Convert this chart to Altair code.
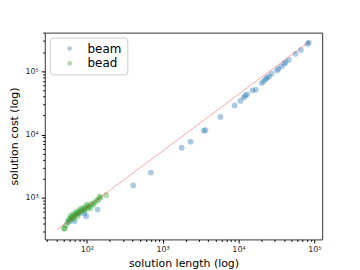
import altair as alt
import pandas as pd

# beam (blue) points
beam_len = [84700, 81300, 66500, 56500, 46300, 41800, 40200, 37000, 33600, 32200,
            27400, 25300, 23800, 22900, 21500, 20300, 16900, 15300, 13000, 12300,
            11700, 10600, 8900, 5770, 3670, 3490, 2335, 1780, 698, 409,
            139, 98, 93, 69, 59, 80]
beam_cost = [282000, 269000, 216000, 187500, 151000, 138400, 130600, 118500, 109000, 102600,
             91000, 82600, 78800, 75000, 69700, 64800, 51100, 49800, 43100, 41100,
             38300, 33900, 28700, 19000, 11750, 11500, 7710, 6210, 2518, 1578,
             656, 515, 568, 430, 426, 568]

# bead (green) points
bead_len = [180, 151, 142, 134, 126, 122, 115, 108, 102, 99, 96, 91, 88, 85, 80, 78,
            75, 73, 71, 69, 67, 65, 63, 61, 63, 59, 57, 56, 53, 51, 50, 83, 93, 105,
            112, 75, 67, 147]
bead_cost = [1106, 1011, 940, 907, 844, 785, 814, 757, 731, 785, 680, 704, 656, 610, 632, 588,
             568, 610, 547, 528, 568, 509, 491, 528, 457, 474, 441, 410, 368, 330, 330, 680, 632, 680,
             704, 509, 474, 1048]

# reference line endpoints
line_len = [40.5, 87900]
line_cost = [318, 298000]

x_major = [100, 1000, 10000, 100000]
y_major = [1000, 10000, 100000]
x_minor = [30, 40, 50, 60, 70, 80, 90, 200, 300, 400, 500, 600, 700, 800, 900,
           2000, 3000, 4000, 5000, 6000, 7000, 8000, 9000,
           20000, 30000, 40000, 50000, 60000, 70000, 80000, 90000]
y_minor = [300, 400, 500, 600, 700, 800, 900, 2000, 3000, 4000, 5000, 6000, 7000, 8000, 9000,
           20000, 30000, 40000, 50000, 60000, 70000, 80000, 90000, 200000, 300000, 400000]

pts = pd.DataFrame({
    "len": beam_len + bead_len,
    "cost": beam_cost + bead_cost,
    "method": ["beam"] * len(beam_len) + ["bead"] * len(bead_len),
})
line_df = pd.DataFrame({"len": line_len, "cost": line_cost})

label_expr = ("datum.value == 100 ? '10²' : datum.value == 1000 ? '10³' : "
              "datum.value == 10000 ? '10⁴' : datum.value == 100000 ? '10⁵' : ''")
major_test = "indexof([100, 1000, 10000, 100000], datum.value) >= 0"

xscale = alt.Scale(type="log", domain=[27.9, 127000], nice=False)
yscale = alt.Scale(type="log", domain=[222, 405000], nice=False)

xaxis = alt.Axis(values=sorted(x_major + x_minor), labelExpr=label_expr, grid=False,
                 tickSize={"condition": {"test": major_test, "value": 3.5}, "value": 2},
                 tickColor="black", domain=False, labelFontSize=8, labelColor="#222",
                 labelPadding=3, title="solution length (log)", titleFontSize=11,
                 titleFontWeight="normal", titlePadding=4, titleColor="black",
                 labelFont="DejaVu Sans", titleFont="DejaVu Sans", labelFlush=False)
yaxis = alt.Axis(values=sorted(y_major + y_minor), labelExpr=label_expr, grid=False,
                 tickSize={"condition": {"test": major_test, "value": 3.5}, "value": 2},
                 tickColor="black", domain=False, labelFontSize=8, labelColor="#222",
                 labelPadding=3, title="solution cost (log)", titleFontSize=11,
                 titleFontWeight="normal", titlePadding=6, titleColor="black",
                 labelFont="DejaVu Sans", titleFont="DejaVu Sans", labelFlush=False)

line = alt.Chart(line_df).mark_line(color="red", opacity=0.35, strokeWidth=1).encode(
    x=alt.X("len:Q", scale=xscale, axis=xaxis),
    y=alt.Y("cost:Q", scale=yscale, axis=yaxis),
)

points = alt.Chart(pts).mark_circle(size=34, opacity=0.38).encode(
    x=alt.X("len:Q", scale=xscale, axis=xaxis),
    y=alt.Y("cost:Q", scale=yscale, axis=yaxis),
    color=alt.Color("method:N",
                    scale=alt.Scale(domain=["beam", "bead"], range=["#1f77b4", "#2ca02c"]),
                    legend=alt.Legend(title=None, orient="top-left", offset=5,
                                      strokeColor="#cccccc", cornerRadius=3, padding=5,
                                      fillColor="white", labelFontSize=12,
                                      labelFont="DejaVu Sans", labelColor="black",
                                      symbolSize=22, symbolOpacity=0.38, symbolStrokeWidth=0,
                                      symbolOffset=9, labelOffset=12, rowPadding=3,
                                      symbolType="circle")),
)

chart = alt.layer(points, line).properties(
    width=279, height=208,
    autosize=alt.AutoSizeParams(type="none"),
    padding={"left": 37, "top": 24, "right": 30, "bottom": 30},
).configure_view(stroke="#333333", strokeWidth=1)

chart.save("out.html", embed_options={"renderer": "svg", "actions": False})
